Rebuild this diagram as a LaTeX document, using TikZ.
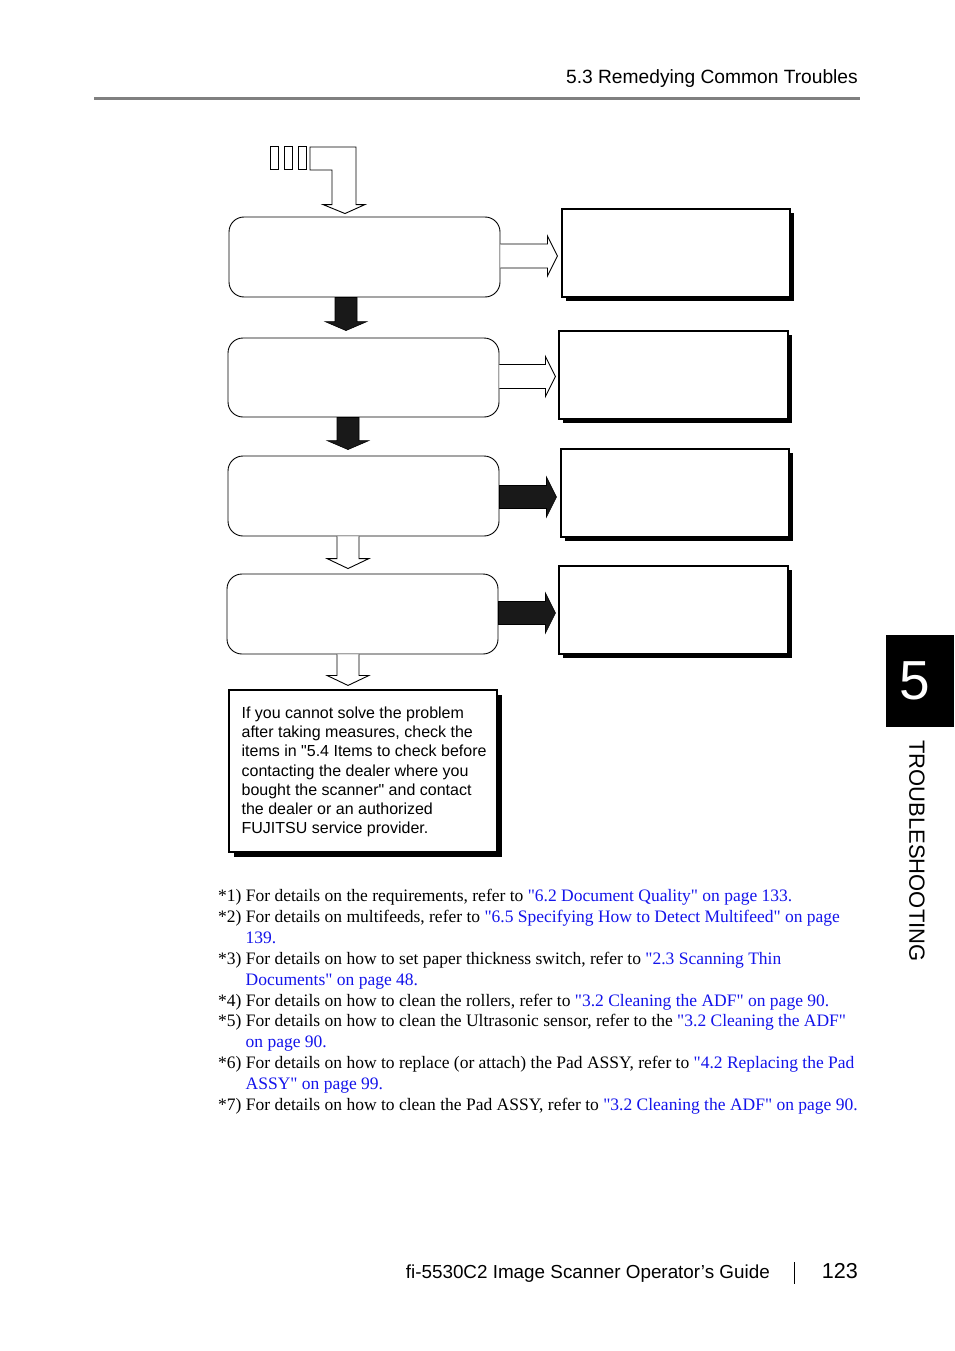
\documentclass[tikz,border=0pt]{standalone}
\usepackage{fontspec}
\setmainfont{Liberation Serif}[Ligatures=TeXOff]
\newfontfamily\hv{Liberation Sans}[Ligatures=TeXOff]
\usetikzlibrary{calc,shadows}
\definecolor{linkblue}{RGB}{20,20,235}
\definecolor{rulegray}{RGB}{128,128,128}
\newcommand{\lk}[1]{\textcolor{linkblue}{#1}}
\newcommand{\hang}{\hspace*{27.5pt}}
\begin{document}
\begin{tikzpicture}[x=1pt,y=-1pt,
  rbox/.style={draw, line width=0.9pt, rounded corners=15pt, minimum width=271pt, minimum height=80pt, inner sep=0pt},
  sbox/.style={draw, fill=white, line width=1.1pt, inner sep=0pt, minimum width=228pt, minimum height=88pt,
     drop shadow={shadow xshift=4pt, shadow yshift=-4pt, fill=black, opacity=1}},
  hollow/.style={draw, line width=0.9pt, fill=white, line join=miter},
  solidarr/.style={draw, line width=0.6pt, fill=black!90},
  tofu/.style={draw, line width=0.9pt}]
\fill[white] (0,0) rectangle (954,1351);
\useasboundingbox (0,0) rectangle (954,1351);

% header
\node[anchor=base east, inner sep=0pt, font=\hv\fontsize{19.2}{22}\selectfont] (head) at (858,84) {5.3 Remedying Common Troubles};
\draw[rulegray, line width=3pt] (94,99) -- (860,99);

% flow boxes
\node[rbox] (rb1) at (364.5,257) {};
\node[rbox, minimum height=79pt] (rb2) at (363.5,377.5) {};
\node[rbox] (rb3) at (363.5,496) {};
\node[rbox] (rb4) at (362.5,614) {};

\node[sbox] (sb1) at (676,253) {};
\node[sbox, minimum width=229pt] (sb2) at (673.5,375) {};
\node[sbox] (sb3) at (675,493) {};
\node[sbox, minimum width=229pt] (sb4) at (673.5,610) {};

\node[draw, fill=white, line width=1.1pt, minimum width=268pt, minimum height=162pt, inner sep=0pt,
      drop shadow={shadow xshift=5pt, shadow yshift=-5pt, fill=black, opacity=1}] (tb) at (363,771) {};
\node[anchor=west, inner sep=0pt, align=left, font=\hv\fontsize{16}{19.2}\selectfont] (tbtext) at ($(tb.west)+(13,1)$)
  {If you cannot solve the problem\\after taking measures, check the\\items in "5.4 Items to check before\\contacting the dealer where you\\bought the scanner" and contact\\the dealer or an authorized\\FUJITSU service provider.};

% start marks (unrendered glyphs)
\draw[tofu] (270,146) rectangle (278,169);
\draw[tofu] (284,146) rectangle (292,169);
\draw[tofu] (298,146) rectangle (306,169);
\coordinate (lstart) at (310,147);

% L-shaped hollow arrow into first box
\draw[hollow] let \p1=(lstart), \p2=($(rb1.north)+(-19.5,-3)$) in
  (\p1) -- (\x2+11pt,\y1) -- (\x2+11pt,\y2+9pt) -- (\x2+20pt,\y2+9pt) -- (\p2)
  -- (\x2-22pt,\y2+9pt) -- (\x2-13pt,\y2+9pt) -- (\x2-13pt,\y1-23pt) -- (\x1,\y1-23pt) -- cycle;

% down arrows
\draw[solidarr] let \p1=(rb1.south), \p2=($(rb2.north)+(-17.5,-7)$) in
  (\x2-11pt,\y1) -- (\x2-11pt,\y2+9pt) -- (\x2-21pt,\y2+9pt) -- (\p2) -- (\x2+21pt,\y2+9pt) -- (\x2+11pt,\y2+9pt) -- (\x2+11pt,\y1) -- cycle;
\draw[solidarr] let \p1=(rb2.south), \p2=($(rb3.north)+(-15.5,-6)$) in
  (\x2-11pt,\y1) -- (\x2-11pt,\y2+9pt) -- (\x2-21pt,\y2+9pt) -- (\p2) -- (\x2+21pt,\y2+9pt) -- (\x2+11pt,\y2+9pt) -- (\x2+11pt,\y1) -- cycle;
\draw[hollow] let \p1=(rb3.south), \p2=($(rb4.north)+(-14.5,-5)$) in
  (\x2-11pt,\y1) -- (\x2-11pt,\y2+10pt) -- (\x2-21pt,\y2+10pt) -- (\p2) -- (\x2+21pt,\y2+10pt) -- (\x2+11pt,\y2+10pt) -- (\x2+11pt,\y1);
\draw[hollow] let \p1=(rb4.south), \p2=($(tb.north)+(-15,-4)$) in
  (\x2-11pt,\y1) -- (\x2-11pt,\y2+10pt) -- (\x2-21pt,\y2+10pt) -- (\p2) -- (\x2+21pt,\y2+10pt) -- (\x2+11pt,\y2+10pt) -- (\x2+11pt,\y1);

% right arrows
\draw[hollow] let \p1=(rb1.east), \p2=($(rb1.east -| sb1.west)+(-4,-1)$) in
  (\x1,\y2+12pt) -- (\x2-10pt,\y2+12pt) -- (\x2-10pt,\y2+20pt) -- (\p2) -- (\x2-10pt,\y2-20pt) -- (\x2-10pt,\y2-12pt) -- (\x1,\y2-12pt);
\draw[hollow] let \p1=(rb2.east), \p2=($(rb2.east -| sb2.west)+(-3,-1)$) in
  (\x1,\y2+12pt) -- (\x2-10pt,\y2+12pt) -- (\x2-10pt,\y2+20pt) -- (\p2) -- (\x2-10pt,\y2-20pt) -- (\x2-10pt,\y2-12pt) -- (\x1,\y2-12pt);
\draw[solidarr] let \p1=(rb3.east), \p2=($(rb3.east -| sb3.west)+(-4,1)$) in
  (\x1,\y2+11.5pt) -- (\x2-10pt,\y2+11.5pt) -- (\x2-10pt,\y2+20pt) -- (\p2) -- (\x2-10pt,\y2-20pt) -- (\x2-10pt,\y2-11.5pt) -- (\x1,\y2-11.5pt) -- cycle;
\draw[solidarr] let \p1=(rb4.east), \p2=($(rb4.east -| sb4.west)+(-3,-1)$) in
  (\x1,\y2+11.5pt) -- (\x2-10pt,\y2+11.5pt) -- (\x2-10pt,\y2+20pt) -- (\p2) -- (\x2-10pt,\y2-20pt) -- (\x2-10pt,\y2-11.5pt) -- (\x1,\y2-11.5pt) -- cycle;

% footnotes
\node[anchor=north west, inner sep=0pt, align=left, font=\fontsize{17.5}{20.9}\selectfont] (notes) at (218,889)
{*1) For details on the requirements, refer to \lk{"6.2 Document Quality" on page 133.}\\
*2) For details on multifeeds, refer to \lk{"6.5 Specifying How to Detect Multifeed" on page}\\
\hang\lk{139.}\\
*3) For details on how to set paper thickness switch, refer to \lk{"2.3 Scanning Thin}\\
\hang\lk{Documents" on page 48.}\\
*4) For details on how to clean the rollers, refer to \lk{"3.2 Cleaning the ADF" on page 90.}\\
*5) For details on how to clean the Ultrasonic sensor, refer to the \lk{"3.2 Cleaning the ADF"}\\
\hang\lk{on page 90.}\\
*6) For details on how to replace (or attach) the Pad ASSY, refer to \lk{"4.2 Replacing the Pad}\\
\hang\lk{ASSY" on page 99.}\\
*7) For details on how to clean the Pad ASSY, refer to \lk{"3.2 Cleaning the ADF" on page 90.}};

% side tab
\fill[black] (886,635) rectangle (954,727);
\node[white, inner sep=0pt, font=\hv\fontsize{55}{55}\selectfont] (tabnum) at (915,681) {5};
\node[rotate=-90, inner sep=0pt, font=\hv\fontsize{22}{22}\selectfont] (tabtxt) at (917,851) {TROUBLESHOOTING};

% footer
\node[anchor=base east, inner sep=0pt, font=\hv\fontsize{18.85}{22}\selectfont] (foot) at (770,1278) {fi-5530C2 Image Scanner Operator’s Guide};
\draw[line width=0.9pt] (794,1262) -- (794,1284);
\node[anchor=base east, inner sep=0pt, font=\hv\fontsize{21.6}{24}\selectfont] (pg) at (858,1278) {123};
\end{tikzpicture}
\end{document}
